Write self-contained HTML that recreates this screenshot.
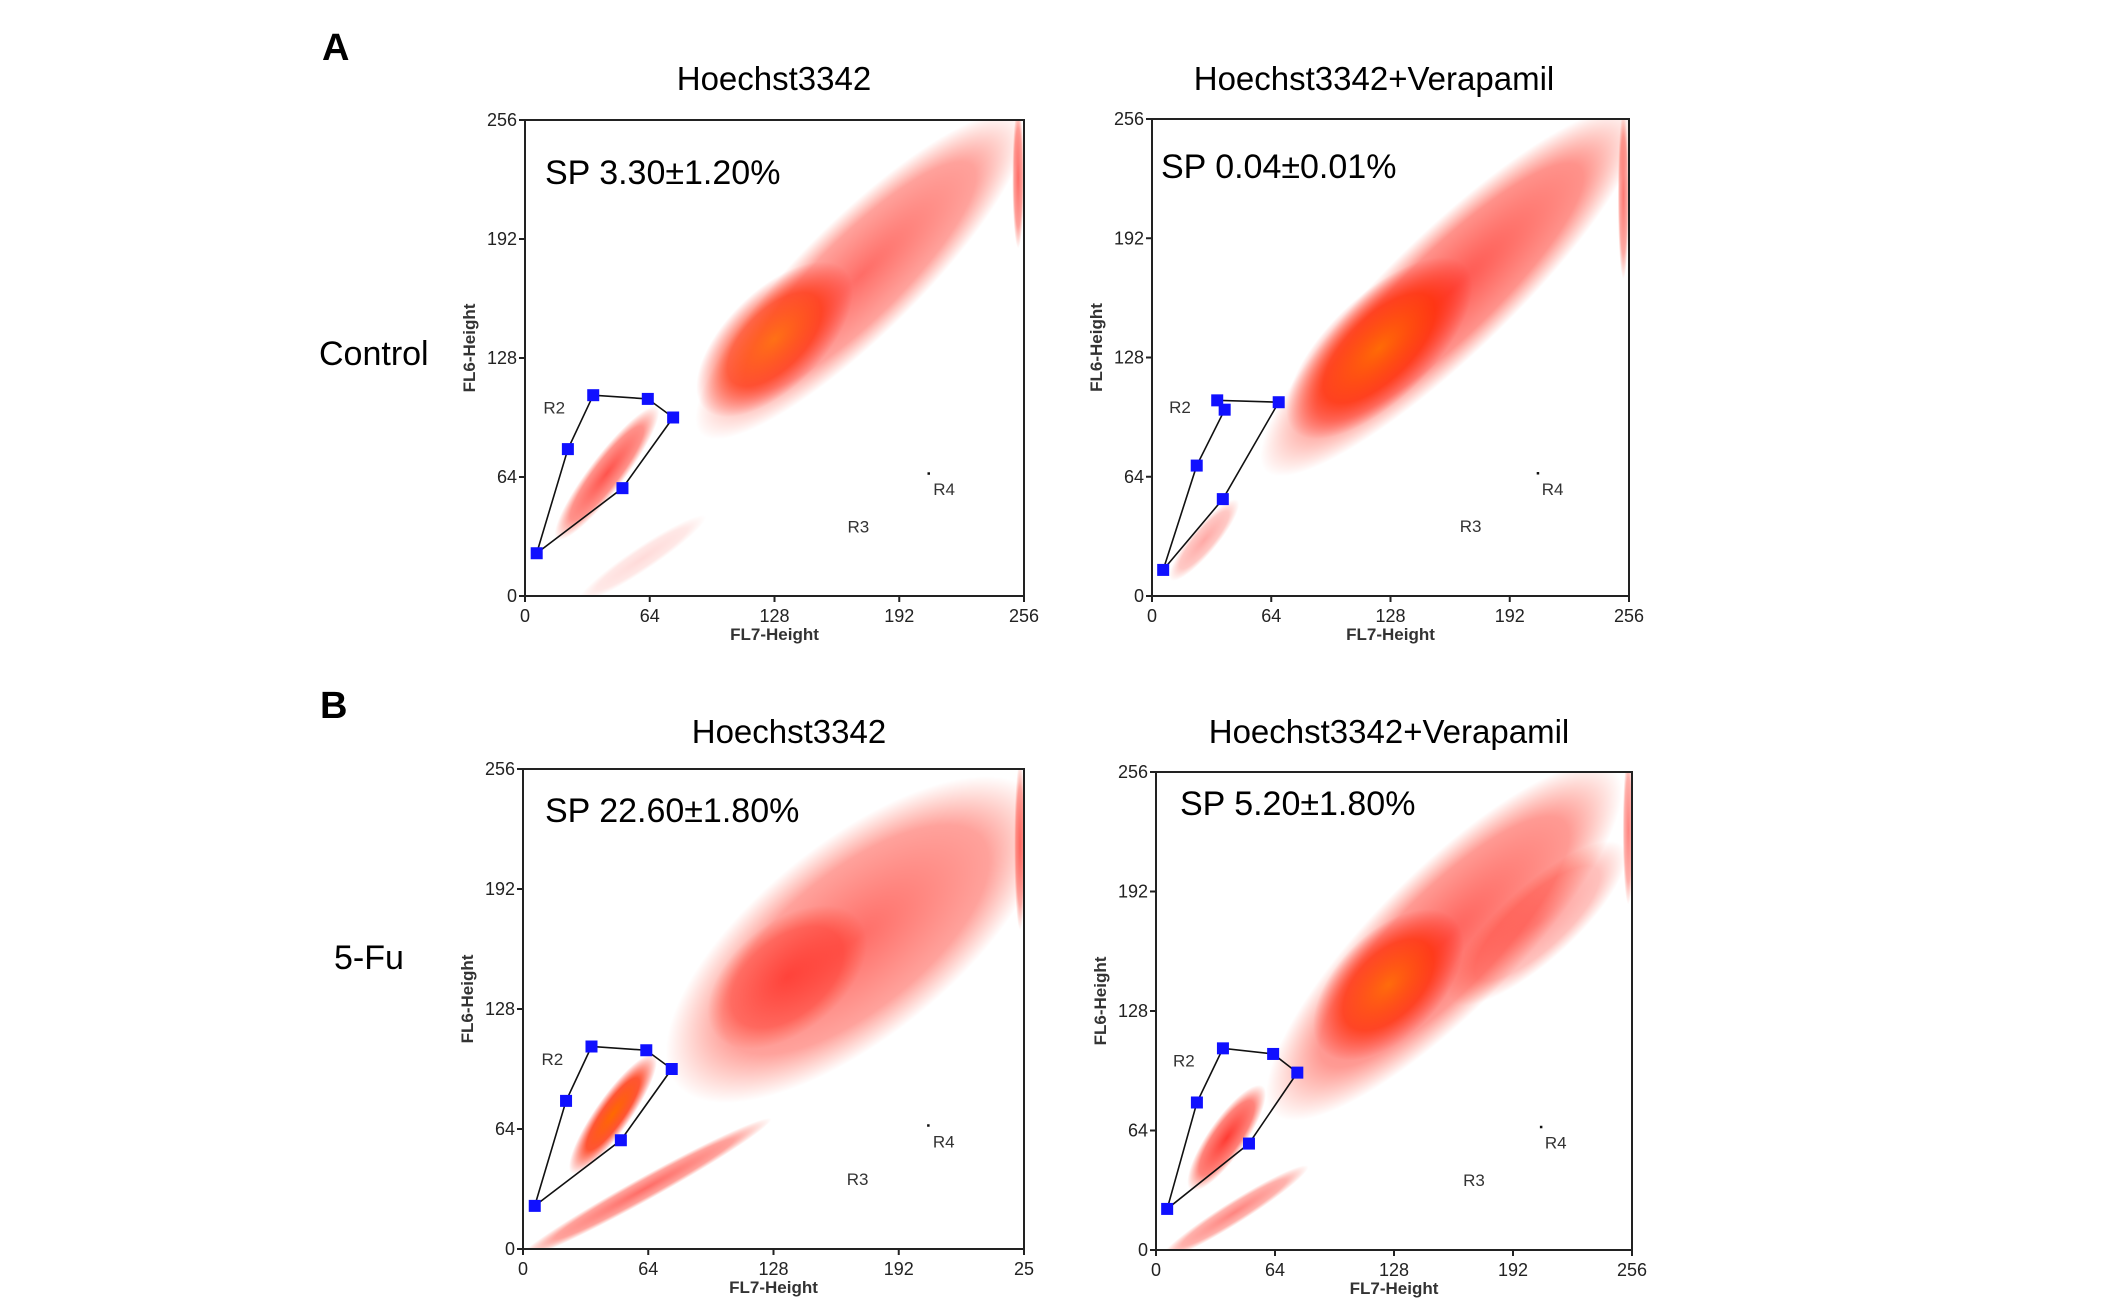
<!DOCTYPE html>
<html><head><meta charset="utf-8"><style>
html,body{margin:0;padding:0;background:#fff}
svg{display:block}
text{font-family:"Liberation Sans",Arial,sans-serif}
</style></head><body>
<svg id="fig" width="2126" height="1300" viewBox="0 0 2126 1300" xmlns="http://www.w3.org/2000/svg">
<defs>
<radialGradient id="gRed"><stop offset="0" stop-color="#ff0a00" stop-opacity="1"/><stop offset="0.7" stop-color="#ff1000" stop-opacity="0.65"/><stop offset="1" stop-color="#ff2000" stop-opacity="0"/></radialGradient>
<radialGradient id="gOr"><stop offset="0" stop-color="#ff6a00" stop-opacity="1"/><stop offset="0.6" stop-color="#ff2a00" stop-opacity="0.8"/><stop offset="1" stop-color="#ff1000" stop-opacity="0"/></radialGradient>
</defs>
<text x="322" y="60" font-family="Liberation Serif" font-weight="bold" font-size="38">A</text>
<text x="320" y="718" font-family="Liberation Serif" font-weight="bold" font-size="38">B</text>
<text x="319" y="365" font-size="34">Control</text>
<text x="334" y="969" font-size="34">5-Fu</text>
<g id="plots"></g>
</svg>
<script>
// ---- data, data units 0..256 ----
const tickValues = [0, 64, 128, 192, 256];
const tickLabelsTop = ["0", "64", "128", "192", "256"];
const tickLabelsBL = ["0", "64", "128", "192", "25"];
const panelTitles = ["Hoechst3342", "Hoechst3342+Verapamil", "Hoechst3342", "Hoechst3342+Verapamil"];
const spLabels = ["SP 3.30\u00b11.20%", "SP 0.04\u00b10.01%", "SP 22.60\u00b11.80%", "SP 5.20\u00b11.80%"];
// gate vertices (FL7, FL6)
const gateTL = [[6,23],[22,79],[35,108],[63,106],[76,96],[50,58]];
const gateTR = [[6,14],[24,70],[39,100],[35,105],[68,104],[38,52]];
const gateBL = [[6,23],[22,79],[35,108],[63,106],[76,96],[50,58]];
const gateBR = [[6,22],[22,79],[36,108],[63,105],[76,95],[50,57]];
// population clusters: [cx, cy, halfLength, halfWidth, angleDeg, opacity, colour]
const popTL = [[172,172,118,30,46,0.6,"r"],[128,138,52,25,46,0.85,"o"],[42,66,44,9,54,0.7,"r"],[253,225,38,3,90,0.6,"r"],[60,20,40,6,35,0.15,"r"]];
const popTR = [[160,163,138,33,44,0.7,"r"],[122,133,64,28,44,0.95,"o"],[28,30,28,7,50,0.35,"r"],[253,215,45,3,90,0.55,"r"]];
const popBL = [[170,165,120,50,40,0.6,"r"],[135,145,48,28,40,0.55,"r"],[46,72,38,9,56,1,"o"],[62,32,75,6,30,0.6,"r"],[254,215,45,3,90,0.55,"r"]];
const popBR = [[155,165,130,38,45,0.65,"r"],[125,142,50,28,45,0.9,"o"],[38,60,34,10,55,0.8,"r"],[42,20,47,6,32,0.5,"r"],[205,175,62,20,42,0.4,"r"],[254,225,40,3,90,0.5,"r"]];
// region labels [text, x, y]
const regionLabels = [["R2",15,102],["R3",171,38],["R4",215,58]];
const r4Dot = [207, 66];

const panels = [
 {name:"control-hoechst", x0:525,x1:1024,y0:120,y1:596, title:panelTitles[0], tx:774, ty:90, sp:spLabels[0], spx:545, spy:184, gate:gateTL, pop:popTL, ticks:tickLabelsTop},
 {name:"control-verapamil", x0:1152,x1:1629,y0:119,y1:596, title:panelTitles[1], tx:1374, ty:90, sp:spLabels[1], spx:1161, spy:178, gate:gateTR, pop:popTR, ticks:tickLabelsTop},
 {name:"5fu-hoechst", x0:523,x1:1024,y0:769,y1:1249, title:panelTitles[2], tx:789, ty:743, sp:spLabels[2], spx:545, spy:822, gate:gateBL, pop:popBL, ticks:tickLabelsBL},
 {name:"5fu-verapamil", x0:1156,x1:1632,y0:772,y1:1250, title:panelTitles[3], tx:1389, ty:743, sp:spLabels[3], spx:1180, spy:815, gate:gateBR, pop:popBR, ticks:tickLabelsTop}
];
const NS = "http://www.w3.org/2000/svg";
function mk(tag, attrs, parent){const e=document.createElementNS(NS,tag);for(const k in attrs)e.setAttribute(k,attrs[k]);parent.appendChild(e);return e;}
const root = document.getElementById("plots");
panels.forEach(p=>{
  const sx = v => p.x0 + (p.x1-p.x0)*v/256;
  const sy = v => p.y1 - (p.y1-p.y0)*v/256;
  const g = mk("g",{},root);
  
  
  const t = mk("text",{x:p.tx,y:p.ty,"text-anchor":"middle","font-size":33},g); t.textContent=p.title;
  
  
  const clipId = "clip-"+p.name;
  const cp = mk("clipPath",{id:clipId},g); mk("rect",{x:p.x0,y:p.y0,width:p.x1-p.x0,height:p.y1-p.y0},cp);
  const pg = mk("g",{"clip-path":"url(#"+clipId+")"},g);
  p.pop.forEach(c=>{
    const [cx,cy,a,b,ang,op,col]=c;
    const rad=ang*Math.PI/180;
    const px=sx(cx), py=sy(cy);
    const dx=sx(cx+Math.cos(rad)*a)-px, dy=sy(cy+Math.sin(rad)*a)-py;
    const L=Math.hypot(dx,dy), W=b*(p.x1-p.x0)/256;
    const deg=Math.atan2(dy,dx)*180/Math.PI;
    const e=mk("ellipse",{cx:px,cy:py,rx:L,ry:W,fill:col==="o"?"url(#gOr)":"url(#gRed)",opacity:op,transform:`rotate(${deg} ${px} ${py})`},pg);
    
    
  });
  const fr=mk("rect",{x:p.x0,y:p.y0,width:p.x1-p.x0,height:p.y1-p.y0,fill:"none",stroke:"#222","stroke-width":2},g);
  
  
  tickValues.forEach((v,i)=>{
    mk("line",{x1:sx(v),x2:sx(v),y1:p.y1,y2:p.y1+6,stroke:"#222","stroke-width":2},g);
    const xl=mk("text",{x:sx(v),y:p.y1+26,"text-anchor":"middle","font-size":18,fill:"#222"},g); xl.textContent=p.ticks[i];
    
    
    mk("line",{x1:p.x0-6,x2:p.x0,y1:sy(v),y2:sy(v),stroke:"#222","stroke-width":2},g);
    const yl=mk("text",{x:p.x0-8,y:sy(v)+6,"text-anchor":"end","font-size":18,fill:"#222"},g); yl.textContent=tickLabelsTop[i];
    
    
  });
  const xt=mk("text",{x:(p.x0+p.x1)/2,y:p.y1+44,"text-anchor":"middle","font-size":17,"font-weight":"bold",fill:"#333"},g); xt.textContent="FL7-Height";
  
  
  const ycx=p.x0-50, ycy=(p.y0+p.y1)/2-10;
  const yt=mk("text",{x:ycx,y:ycy,"text-anchor":"middle","font-size":17,"font-weight":"bold",fill:"#333",transform:`rotate(-90 ${ycx} ${ycy})`},g); yt.textContent="FL6-Height";
  
  
  const sp=mk("text",{x:p.spx,y:p.spy,"font-size":34,fill:"#000"},g); sp.textContent=p.sp;
  
  
  regionLabels.forEach(r=>{
    const rt=mk("text",{x:sx(r[1]),y:sy(r[2])+7,"text-anchor":"middle","font-size":17,fill:"#333"},g); rt.textContent=r[0];
    
    
  });
  mk("rect",{x:sx(r4Dot[0])-1,y:sy(r4Dot[1])-1,width:2.5,height:2.5,fill:"#111"},g);
  const pts=p.gate.map(q=>sx(q[0])+","+sy(q[1])).join(" ");
  const poly=mk("polygon",{points:pts,fill:"none",stroke:"#111","stroke-width":1.6},g);
  
  
  p.gate.forEach(q=>{
    const h=mk("rect",{x:sx(q[0])-6,y:sy(q[1])-6,width:12,height:12,fill:"#1010ff"},g);
    
    
  });
});
</script>
</body></html>
